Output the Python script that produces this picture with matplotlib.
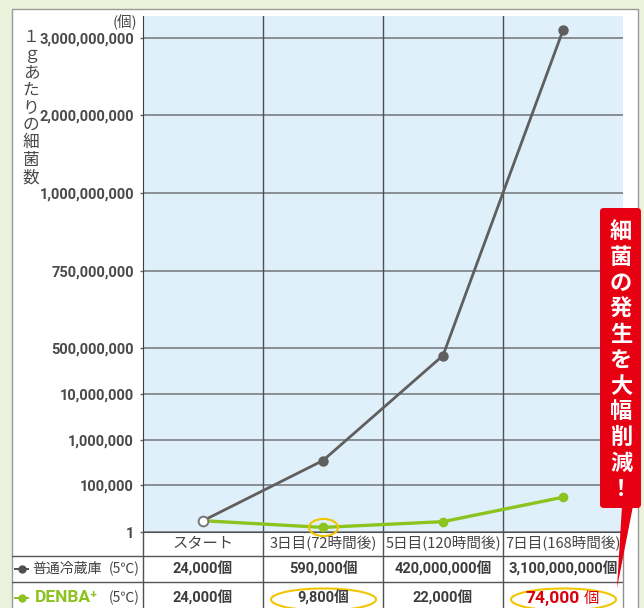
import numpy as np
import matplotlib as mpl
import matplotlib.pyplot as plt
from matplotlib.patches import Rectangle, FancyBboxPatch, Polygon
from matplotlib.path import Path

mpl.rcParams['font.family'] = ['Noto Sans CJK JP', 'DejaVu Sans']

# data
categories = ['スタート', '3日目(72時間後)', '5日目(120時間後)', '7日目(168時間後)']
normal = [24000, 590000, 420000000, 3100000000]
denba = [24000, 9800, 22000, 74000]
normal_text = ['24,000', '590,000', '420,000,000', '3,100,000,000']
denba_text = ['24,000', '9,800', '22,000', '74,000']
highlight = [1, 3]   # columns circled in yellow (DENBA row)
tick_vals = [1, 100000, 1000000, 10000000, 500000000, 750000000,
             1000000000, 2000000000, 3000000000]
tick_text = ['1', '100,000', '1,000,000', '10,000,000', '500,000,000',
             '750,000,000', '1,000,000,000', '2,000,000,000', '3,000,000,000']

GRAY = '#5f5f5f'
GREEN = '#8cc31e'
YELLOW = '#f2c500'
RED = '#e60012'
NUM = ['Roboto', 'Noto Sans CJK JP']

# uneven axis: each tick sits at a fixed height (px above the baseline)
tick_pos = [0, 47, 92, 138, 184, 261, 339, 417, 494]
ext_vals = np.array([-100000] + tick_vals + [4000000000], float)
ext_pos = np.array([-47] + tick_pos + [571.5], float)

def fwd(v):
    return np.interp(v, ext_vals, ext_pos)

def inv(p):
    return np.interp(p, ext_pos, ext_vals)

W, H = 644, 608
def fx(px):
    return px / W
def fy(py):
    return 1 - py / H

fig = plt.figure(figsize=(6.44, 6.08), dpi=100, facecolor='#eaf2dc')

# white panel
fig.add_artist(Rectangle((fx(12), fy(620)), fx(638) - fx(12), fy(9) - fy(620),
                         transform=fig.transFigure, facecolor='white',
                         edgecolor='#9a9a9a', lw=1, zorder=-1))

# main chart
ax = fig.add_axes([fx(143), fy(532), fx(623) - fx(143), fy(16) - fy(532)])
ax.set_facecolor('#dff0fb')
ax.set_yscale('function', functions=(fwd, inv))
ax.set_xlim(-0.5, 3.5)
ax.set_ylim(1, inv(516))
ax.set_xticks([])
ax.set_yticks(tick_vals, tick_text)
for lab in ax.get_yticklabels():
    lab.set_family(NUM)
    lab.set_fontweight('bold')
    lab.set_fontsize(10.5)
    lab.set_color('#4a4a4a')
ax.tick_params(axis='y', length=2.5, width=1, color='#666666', pad=4)
ax.yaxis.grid(True, color='#707478', lw=1.1)
ax.set_axisbelow(True)
for b in [0.5, 1.5, 2.5]:
    ax.axvline(b, color='#505050', lw=1, zorder=1)
for s in ['top', 'right']:
    ax.spines[s].set_visible(False)
ax.spines['left'].set_color('#404040')
ax.spines['bottom'].set_color('#505050')

x = np.arange(len(categories))
ax.plot(x, normal, color=GRAY, lw=2, marker='o', ms=6.5, markevery=[1, 2, 3],
        zorder=3, clip_on=False)
ax.plot(x, denba, color=GREEN, lw=2.4, marker='o', ms=6, markevery=[1, 2, 3],
        zorder=4, clip_on=False)
ax.plot(x[0], normal[0], marker='o', ms=7, mfc='white', mec='#777777', mew=1.4,
        zorder=5, clip_on=False)

circ = Path.unit_circle()
ell_small = Path(circ.vertices * [1, 0.59], circ.codes)
ell_wide = Path(circ.vertices * [1, 0.21], circ.codes)
ax.plot(x[1], denba[1], marker=ell_small, ms=20.9, mfc='none', mec=YELLOW,
        mew=1.5, ls='none', zorder=6, clip_on=False)

# unit and y label
fig.text(fx(137), fy(22), '(個)', ha='right', va='center', fontsize=10.5,
         color='#4a4a4a')
for k, ch in enumerate('１ｇあたりの細菌数'):
    fig.text(fx(31), fy(37 + 17.6 * k), ch, ha='center', va='center',
             fontsize=12, color='#4a4a4a')

# table under the chart
tab = fig.add_axes([fx(12), 0, fx(623) - fx(12), fy(532)])
tab.set_xlim(-0.5 - 131 / 120, 3.5)
tab.set_ylim(0, 76)
tab.axis('off')
for yy in [52, 26]:
    tab.axhline(yy, color='#555555', lw=1)
for b in [-0.5, 0.5, 1.5, 2.5]:
    tab.axvline(b, color='#505050', lw=1)
tab.axvline(3.5, color='#909090', lw=1, clip_on=False)

for i, c in enumerate(categories):
    tab.text(i, 64, c, ha='center', va='center', fontsize=11 if i == 0 else 10.5,
             color='#444444')
for i, t in enumerate(normal_text):
    tab.text(i, 39, t + '個', ha='center', va='center', fontsize=10.5,
             family=NUM, fontweight='bold', color='#3d3d3d')
for i, t in enumerate(denba_text):
    if i == len(denba_text) - 1:
        tab.text(i + 0.14, 10, t, ha='right', va='center', fontsize=12.5,
                 family=NUM, fontweight='bold', color='#d9000d')
        tab.text(i + 0.17, 10, '個', ha='left', va='center', fontsize=11,
                 color='#d9000d')
    else:
        tab.text(i, 10, t + '個', ha='center', va='center', fontsize=10.5,
                 family=NUM, fontweight='bold', color='#3d3d3d')
tab.plot(highlight, [9] * len(highlight), ls='none', marker=ell_wide, ms=75.6,
         mfc='none', mec=YELLOW, mew=1.5, clip_on=False)

# row labels
lx = -0.5 - 131 / 120
tab.plot([lx + 3 / 120, lx + 16 / 120], [39, 39], color='#505050', lw=1.4)
tab.plot(lx + 10 / 120, 39, 'o', color='#505050', ms=5)
tab.plot([lx + 3 / 120, lx + 16 / 120], [10, 10], color=GREEN, lw=1.4)
tab.plot(lx + 10 / 120, 10, 'o', color=GREEN, ms=5)
tab.text(lx + 20 / 120, 39, '普通冷蔵庫', ha='left', va='center', fontsize=10,
         color='#444444')
tab.text(lx + 23 / 120, 10, 'DENBA⁺', ha='left', va='center', fontsize=12.5,
         fontweight='bold', family=['Roboto', 'DejaVu Sans'], color=GREEN)
for yy in [39, 10]:
    tab.text(lx + 128 / 120, yy, '(5℃)', ha='right', va='center', fontsize=10,
             color='#444444')

# red callout
fig.add_artist(FancyBboxPatch((fx(600), fy(508)), fx(641) - fx(600), fy(208) - fy(508),
                              boxstyle='round,pad=0,rounding_size=0.006',
                              transform=fig.transFigure, facecolor=RED,
                              edgecolor='none', zorder=10))
fig.add_artist(Polygon([(fx(622), fy(506)), (fx(633), fy(506)), (fx(617), fy(588))],
                       closed=True, transform=fig.transFigure, facecolor=RED,
                       edgecolor='none', zorder=10))
for k, ch in enumerate('細菌の発生を大幅削減！'):
    fig.text(fx(621), fy(232 + 25.7 * k), ch, ha='center', va='center',
             fontsize=16, fontweight='bold', color='white', zorder=11)

fig.savefig('out.png', dpi=100, facecolor=fig.get_facecolor())
